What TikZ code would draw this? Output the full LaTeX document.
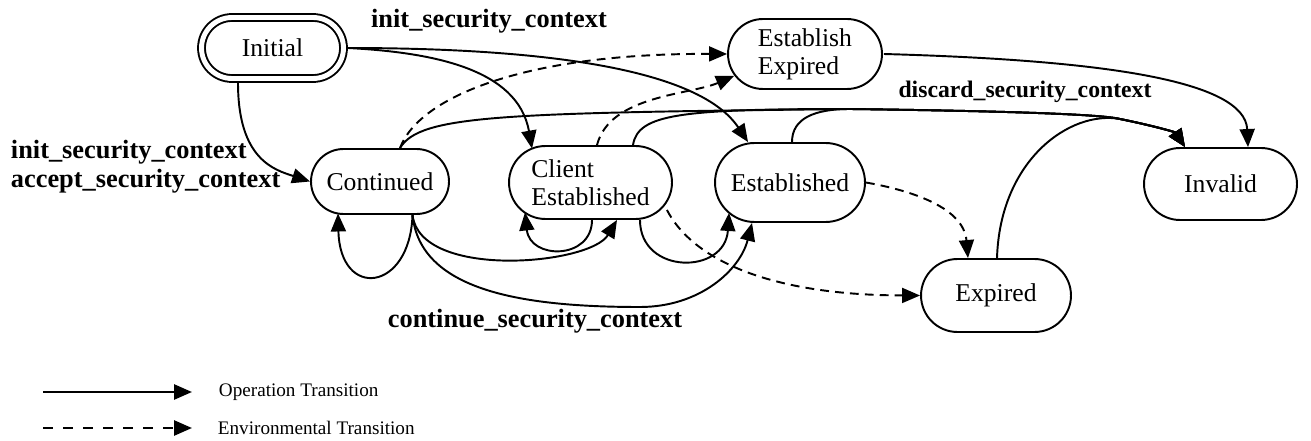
\documentclass[tikz,border=0pt]{standalone}
\usepackage{fontspec}
\setmainfont{Liberation Serif}
\usepackage{tikz}
\usetikzlibrary{arrows.meta}

\begin{document}
\begin{tikzpicture}[
    x=0.02cm, y=0.02cm,
    line width=1.1pt,
    stbox/.style n args={2}{
        draw,
        rectangle,
        align=left,
        inner sep=1pt,
        minimum width=#1,
        minimum height=#2,
        rounded corners=#2/2,
        font=\fontsize{14.6}{16}\selectfont
    },
    lbl/.style={font=\fontsize{15}{16.4}\selectfont\bfseries, align=left, inner sep=0pt},
    leg/.style={font=\fontsize{10.9}{13}\selectfont, anchor=west, inner sep=0pt},
    oparrow/.style={-{Triangle[length=0.36cm,width=0.3cm]}},
    envarrow/.style={oparrow, dash pattern=on 5pt off 3.5pt}
]
\useasboundingbox (0,0) rectangle (1311,440);

% states
\node[stbox={2.84cm}{1.22cm}, double, double distance=2.8pt] (initial) at (272.5,392) {Initial};
\node[stbox={2.76cm}{1.30cm}] (continued) at (380,258.5) {Continued};
\node[stbox={3.26cm}{1.46cm}] (clientest) at (590.5,257.5) {Client\\Established};
\node[stbox={3.00cm}{1.58cm}] (established) at (790,257.5) {Established};
\node[stbox={3.08cm}{1.40cm}] (estexpired) at (805,386) {Establish\\Expired};
\node[stbox={3.06cm}{1.44cm}] (invalid) at (1220.5,256) {Invalid};
\node[stbox={3.00cm}{1.46cm}] (expired) at (996,144.5) {Expired};

% merge points of the discard edges
\coordinate (jA) at (850,331);
\coordinate (jB) at (1120,321);

% operation transitions
\draw[oparrow] ([xshift=-0.69cm,yshift=-0.07cm]initial.south) .. controls (238,280) and (275,270) .. (continued.west);
\draw[oparrow] ([xshift=0.07cm]initial.east) to[out=-3,in=100] ([xshift=-1.17cm,yshift=-0.07cm]clientest.north);
\draw[oparrow] ([xshift=0.07cm]initial.east) .. controls (550,392) and (700,370) .. ([xshift=-0.84cm]established.north);

\draw[oparrow] ([xshift=0.4cm]continued.north) .. controls (420,325) and (500,327) .. (jA) .. controls (1000,329) and (1100,326) .. (jB) .. controls (1150,315) and (1175,308) .. ([xshift=-0.71cm]invalid.north);
\draw[oparrow] ([xshift=0.85cm]clientest.north) .. controls (638,326) and (680,331) .. (jA) .. controls (1000,329) and (1100,326) .. (jB) .. controls (1150,315) and (1175,308) .. ([xshift=-0.71cm]invalid.north);
\draw[oparrow] ([xshift=0.04cm]established.north) .. controls (792,322) and (815,331) .. (jA) .. controls (1000,329) and (1100,326) .. (jB) .. controls (1150,315) and (1175,308) .. ([xshift=-0.71cm]invalid.north);
\draw[oparrow] ([xshift=0.02cm]expired.north) .. controls (1000,280) and (1070,330) .. (jB) .. controls (1150,315) and (1175,308) .. ([xshift=-0.71cm]invalid.north);
\draw[oparrow] ([xshift=0.02cm]estexpired.east) .. controls (1100,380) and (1245,360) .. ([xshift=0.55cm]invalid.north);

\draw[oparrow] ([xshift=0.65cm]continued.south) .. controls (410,148) and (340,140) .. ([xshift=-0.84cm,yshift=0.03cm]continued.south);
\draw[oparrow] ([xshift=0.65cm]continued.south) .. controls (420,160) and (590,175) .. ([xshift=0.53cm]clientest.south);
\draw[oparrow] ([xshift=0.65cm]continued.south) .. controls (420,150) and (520,133) .. (640,133) .. controls (700,133) and (740,170) .. ([xshift=-0.76cm]established.south);
\draw[oparrow] ([xshift=0.03cm]clientest.south) .. controls (592,180) and (530,180) .. ([xshift=-1.31cm,yshift=0.15cm]clientest.south);
\draw[oparrow] ([xshift=0.99cm]clientest.south) .. controls (640,165) and (725,165) .. ([xshift=-1.22cm,yshift=0.2cm]established.south);

% environmental transitions
\draw[envarrow] ([xshift=0.4cm]continued.north) .. controls (420,345) and (530,387) .. (estexpired.west);
\draw[envarrow] ([xshift=0.13cm]clientest.north) .. controls (610,345) and (690,345) .. ([xshift=0.14cm,yshift=0.28cm]estexpired.south west);
\draw[envarrow] ([xshift=-0.12cm,yshift=0.2cm]clientest.south east) .. controls (690,185) and (760,145) .. (expired.west);
\draw[envarrow] (established.east) to[out=-10,in=95] ([xshift=-0.56cm]expired.north);

% operation names
\node[lbl] (lblinit) at (489,419) {init\_security\_context};
\node[lbl, anchor=west] (lblleft) at (10,273) {init\_security\_context\\accept\_security\_context};
\node[lbl] (lblcont) at (535,119) {continue\_security\_context};
\node[lbl, font=\fontsize{13.5}{15}\selectfont\bfseries] (lbldiscard) at (1025,348.5) {discard\_security\_context};

% legend
\coordinate (legop) at (43,48);
\coordinate (legenv) at (43,12);
\node[leg] (legoptext) at (218,48) {Operation Transition};
\node[leg] (legenvtext) at (217,12) {Environmental Transition};
\draw[oparrow, line width=1.5pt] (legop) -- ([xshift=-0.52cm]legoptext.west);
\draw[envarrow, line width=1.5pt, dash pattern=on 5.7pt off 5.7pt] (legenv) -- ([xshift=-0.5cm]legenvtext.west);
\end{tikzpicture}
\end{document}
